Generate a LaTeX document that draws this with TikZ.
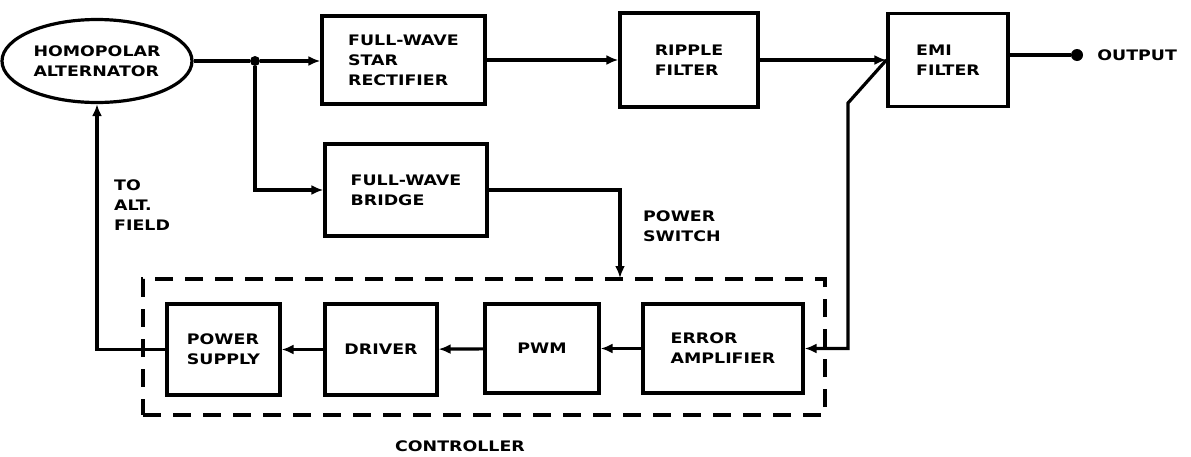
\documentclass[tikz,border=0pt]{standalone}
\usepackage{fontspec}
\usepackage{tikz}
\usetikzlibrary{positioning,arrows.meta,shapes.geometric}
\newfontfamily\diagfont{DejaVu Sans}[FakeStretch=1.2]
\definecolor{ink}{HTML}{000000}

\begin{document}
\begin{tikzpicture}[
  x=1pt,y=-1pt,
  font=\diagfont\bfseries\fontsize{14.5}{20}\selectfont,
  blk/.style={draw=ink,line width=3.2pt,align=left,inner sep=2pt},
  alt/.style={ellipse,draw=ink,line width=3.2pt,align=left,
              minimum width=190pt,minimum height=83pt,inner sep=0pt},
  ctrl/.style={draw=ink,line width=3.2pt,dash pattern=on 18pt off 12pt,
               minimum width=682pt,minimum height=136pt},
  arr/.style={-{Latex[length=12pt,width=10pt]},ink,line width=3.2pt},
  ln/.style={ink,line width=3.2pt},
  lbl/.style={align=left,inner sep=0pt}
]
\useasboundingbox (0,0) rectangle (1191,456);

% upper row
\node[alt] (alt) at (97,61) {HOMOPOLAR\\ALTERNATOR};
\node[blk,minimum width=163pt,minimum height=88pt] (star) at (403.5,60)
  {FULL-WAVE\\STAR\\RECTIFIER};
\node[blk,minimum width=138pt,minimum height=94pt] (ripple) at (689,60)
  {RIPPLE\\FILTER};
\node[blk,minimum width=120pt,minimum height=93pt] (emi) at (948,60)
  {EMI\\FILTER};
\node[blk,minimum width=162pt,minimum height=92pt] (bridge) at (406,190)
  {FULL-WAVE\\BRIDGE};

% output
\node[circle,fill=ink,minimum size=12pt,inner sep=0pt] (out) at (1077,55) {};
\node[lbl,right=14pt of out] (outlbl) {OUTPUT};

% controller
\node[ctrl] (ctrlbox) at (484,347) {};
\node[blk,minimum width=113pt,minimum height=91pt] (psu) at (223.5,349.5)
  {POWER\\SUPPLY};
\node[blk,minimum width=112pt,minimum height=91pt] (driver) at (381,349.5)
  {DRIVER};
\node[blk,minimum width=114pt,minimum height=89pt] (pwm) at (542,348.5)
  {PWM};
\node[blk,minimum width=160pt,minimum height=89pt] (err) at (723,348.5)
  {ERROR\\AMPLIFIER};
\node[lbl] (ctrllbl) at (460,446) {CONTROLLER};

% labels
\node[lbl,anchor=north west] (fieldlbl) at (114,180) {TO\\ALT.\\FIELD};
\node[lbl,anchor=west] (swlbl) at (643,226) {POWER\\SWITCH};

% junctions
\node[circle,fill=ink,minimum size=10pt,inner sep=0pt] (jn) at (255,61) {};
\coordinate (sw) at (620,278);
\coordinate (fb) at (848,103);

\draw[ln] (alt.east) -- (jn);
\draw[arr] (jn) -- (jn -| star.west);
\draw[arr] (jn) |- (bridge.west);
\draw[arr] (star) -- (ripple);
\draw[arr] (ripple) -- (emi);
\draw[ln] (out -| emi.east) -- (out);
\draw[arr] (bridge.east) -| (sw);
\draw[arr] (emi.west) -- (fb) |- (err.east);
\draw[arr] (err) -- (pwm);
\draw[arr] (pwm) -- (driver);
\draw[arr] (driver) -- (psu);
\draw[arr] (psu.west) -| (alt.south);
\end{tikzpicture}
\end{document}
